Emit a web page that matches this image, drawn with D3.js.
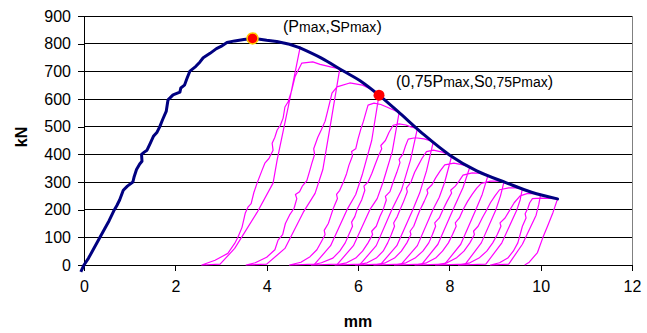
<!DOCTYPE html>
<html>
<head>
<meta charset="utf-8">
<script src="https://cdn.jsdelivr.net/npm/d3@7"></script>
<style>
  body { margin: 0; background: #fff; }
  text { font-family: Arial, "Liberation Sans", sans-serif; }
</style>
</head>
<body>
<svg id="chart" width="647" height="333"></svg>
<script>
// axis ticks
const xTicks = [0, 2, 4, 6, 8, 10, 12];
const yTicks = [0, 100, 200, 300, 400, 500, 600, 700, 800, 900];

// envelope curve [mm, kN] - rising part (measured) and fitted descending tail
const envelopeRise = [[-0.07,-25],[0,0],[0.1,25],[0.2,55],[0.35,100],[0.45,130],[0.55,160],[0.65,195],[0.72,215],[0.78,235],[0.86,270],[0.95,285],[1.07,300],[1.1,320],[1.15,345],[1.22,365],[1.27,375],[1.26,400],[1.32,408],[1.38,415],[1.45,440],[1.52,465],[1.6,480],[1.66,500],[1.72,525],[1.8,555],[1.84,597],[1.95,615],[2.1,625],[2.12,640],[2.2,650],[2.25,672],[2.32,701],[2.45,718],[2.54,734],[2.61,749],[2.76,765],[2.9,782],[3.0,790],[3.13,804],[3.3,810],[3.5,815],[3.69,819],[3.85,816],[4.0,812],[4.22,808],[4.5,798],[4.73,785]];
const envelopeTail = [[4.73,785],[5.2,748],[5.67,702],[6.1,660],[6.46,614],[6.92,548],[7.45,470],[8.01,397],[8.6,340],[9.25,297],[9.8,263],[10.37,239]];

// unloading / reloading cycles [mm, kN]
const cycle1 = [[4.73,785],[4.47,570],[4.23,380],[4.14,296],[3.79,190],[3.3,60],[2.98,3],[2.58,0],[2.87,17],[3.15,42],[3.3,78],[3.37,100],[3.46,136],[3.53,187],[3.59,209],[3.66,222],[3.72,262],[3.79,296],[3.9,343],[3.96,368],[4.05,385],[4.14,415],[4.12,440],[4.18,462],[4.23,488],[4.3,505],[4.36,531],[4.4,571],[4.47,590],[4.55,632],[4.62,680],[4.66,694],[4.77,730],[5.01,734],[5.17,725],[5.4,716],[5.6,709]];
const cycle2 = [[5.6,709],[5.42,530],[5.23,345],[5.06,259],[4.8,190],[4.4,60],[4.0,3],[3.55,0],[3.75,8],[4.0,28],[4.18,55],[4.25,90],[4.35,110],[4.41,150],[4.5,180],[4.6,205],[4.66,240],[4.63,255],[4.72,265],[4.78,285],[4.88,305],[4.95,345],[4.99,368],[5.05,400],[5.03,420],[5.12,462],[5.2,490],[5.28,520],[5.34,560],[5.4,600],[5.43,621],[5.54,644],[5.82,658],[6.1,650],[6.33,632],[6.46,614]];
const cycle3 = [[6.46,614],[6.3,450],[6.1,330],[5.95,255],[5.76,200],[5.4,70],[5.05,3],[4.5,0],[4.75,10],[4.95,30],[5.1,55],[5.2,85],[5.28,110],[5.26,125],[5.35,150],[5.4,175],[5.46,205],[5.55,240],[5.53,255],[5.6,270],[5.68,300],[5.75,330],[5.8,360],[5.88,395],[5.86,410],[5.95,420],[6.0,455],[6.06,490],[6.12,520],[6.18,555],[6.22,578],[6.35,585],[6.5,580],[6.63,571],[6.9,551]];
const cycle4 = [[6.9,551],[6.75,410],[6.55,300],[6.42,240],[6.26,200],[5.9,70],[5.55,3],[4.98,0],[5.2,8],[5.45,25],[5.6,50],[5.72,80],[5.8,110],[5.88,140],[5.86,155],[5.93,175],[5.99,205],[6.08,235],[6.15,270],[6.13,285],[6.22,300],[6.3,330],[6.38,365],[6.45,395],[6.52,420],[6.5,432],[6.6,450],[6.68,480],[6.77,505],[6.9,510],[7.05,506],[7.14,500],[7.3,493]];
const cycle5 = [[7.3,493],[7.15,380],[6.95,270],[6.74,200],[6.4,70],[6.05,3],[5.5,0],[5.75,8],[5.95,25],[6.1,50],[6.22,80],[6.32,110],[6.3,122],[6.4,140],[6.48,175],[6.55,200],[6.62,235],[6.6,248],[6.7,265],[6.77,300],[6.85,335],[6.92,370],[6.9,382],[6.98,400],[7.04,430],[7.1,455],[7.25,460],[7.45,456],[7.65,446]];
const cycle6 = [[7.65,446],[7.5,340],[7.35,260],[7.2,200],[6.85,70],[6.5,3],[5.95,0],[6.2,8],[6.4,25],[6.55,50],[6.65,80],[6.73,110],[6.8,140],[6.78,152],[6.86,175],[6.92,200],[7.0,230],[7.08,265],[7.06,278],[7.16,300],[7.24,335],[7.32,360],[7.4,385],[7.5,410],[7.65,415],[7.85,408],[8.05,393]];
const cycle7 = [[8.05,393],[7.9,300],[7.78,245],[7.64,200],[7.3,70],[6.95,3],[6.35,0],[6.6,8],[6.8,25],[6.95,50],[7.07,80],[7.16,110],[7.14,122],[7.22,140],[7.3,175],[7.36,200],[7.45,230],[7.53,260],[7.51,272],[7.62,290],[7.7,315],[7.8,340],[7.9,362],[8.1,368],[8.3,362],[8.45,354]];
const cycle8 = [[8.45,354],[8.3,280],[8.08,200],[7.75,75],[7.4,3],[6.8,0],[7.05,8],[7.25,25],[7.42,50],[7.55,80],[7.63,110],[7.7,140],[7.68,152],[7.78,170],[7.86,200],[7.95,230],[8.05,260],[8.03,270],[8.13,285],[8.22,305],[8.3,325],[8.5,333],[8.7,331],[8.85,326]];
const cycle9 = [[8.85,326],[8.72,255],[8.58,200],[8.25,75],[7.9,3],[7.25,0],[7.5,8],[7.7,25],[7.85,50],[7.98,80],[8.07,110],[8.15,140],[8.13,152],[8.22,170],[8.3,200],[8.4,230],[8.5,255],[8.6,278],[8.7,295],[8.9,303],[9.05,303],[9.2,302]];
const cycle10 = [[9.2,302],[9.12,250],[9.02,200],[8.7,80],[8.35,3],[7.7,0],[7.95,8],[8.15,25],[8.32,50],[8.45,80],[8.55,110],[8.53,122],[8.63,140],[8.72,170],[8.82,200],[8.9,225],[9.0,250],[9.1,272],[9.3,279],[9.45,279],[9.6,276]];
const cycle11 = [[9.6,276],[9.55,235],[9.48,200],[9.15,80],[8.8,3],[8.2,0],[8.45,8],[8.65,25],[8.82,50],[8.95,80],[9.05,110],[9.13,140],[9.11,152],[9.22,170],[9.33,200],[9.42,225],[9.55,250],[9.7,258],[9.85,259],[10.0,256]];
const cycle12 = [[10.0,256],[9.96,220],[9.9,180],[9.6,75],[9.3,3],[8.9,0],[9.1,8],[9.28,25],[9.4,50],[9.5,80],[9.55,110],[9.6,140],[9.68,170],[9.66,185],[9.72,205],[9.76,225],[9.82,240],[10.0,242],[10.2,241],[10.37,239]];
const cycle13 = [[10.37,239],[10.27,190],[10.15,140],[10.05,100],[9.93,45],[9.75,10],[9.65,0]];
const cycles = [cycle1, cycle2, cycle3, cycle4, cycle5, cycle6, cycle7, cycle8, cycle9, cycle10, cycle11, cycle12, cycle13];

// marked points
const peakPoint = [3.69, 819];
const point75 = [6.46, 614];

const svg = d3.select('#chart');

const x = d3.scaleLinear().domain([0, 12]).range([84, 632]);
const y = d3.scaleLinear().domain([0, 900]).range([265, 16]);

// gridlines
svg.append('g')
  .selectAll('line')
  .data(yTicks.filter(d => d > 0))
  .join('line')
  .attr('x1', x(0)).attr('x2', x(12))
  .attr('y1', d => y(d)).attr('y2', d => y(d))
  .attr('stroke', '#000')
  .attr('shape-rendering', 'crispEdges');

// right border of plot area
svg.append('line')
  .attr('x1', x(12)).attr('x2', x(12))
  .attr('y1', y(900)).attr('y2', y(0))
  .attr('stroke', '#808080')
  .attr('shape-rendering', 'crispEdges');

// axes
const xAxis = svg.append('g')
  .attr('transform', `translate(0,${y(0)})`)
  .call(d3.axisBottom(x).tickValues(xTicks).tickSize(6).tickPadding(10));
const yAxis = svg.append('g')
  .attr('transform', `translate(${x(0)},0)`)
  .call(d3.axisLeft(y).tickValues(yTicks).tickSize(6).tickPadding(7));

[xAxis, yAxis].forEach(a => {
  a.select('.domain').attr('stroke', '#000').attr('shape-rendering', 'crispEdges');
  a.selectAll('.tick line').attr('stroke', '#000').attr('shape-rendering', 'crispEdges');
  a.selectAll('text').style('font-size', '16px').attr('fill', '#000')
    .style('font-family', 'Arial, "Liberation Sans", sans-serif');
});

// axis titles
svg.append('text')
  .attr('x', x(6)).attr('y', 327)
  .attr('text-anchor', 'middle')
  .style('font-size', '16px').style('font-weight', 'bold')
  .text('mm');
svg.append('text')
  .attr('transform', `translate(27,${137}) rotate(-90)`)
  .attr('text-anchor', 'middle')
  .style('font-size', '16px').style('font-weight', 'bold')
  .text('kN');

const line = d3.line().x(d => x(d[0])).y(d => y(d[1]));

// cycles (magenta)
svg.append('g')
  .selectAll('path')
  .data(cycles)
  .join('path')
  .attr('d', line)
  .attr('fill', 'none')
  .attr('stroke', '#ff00ff')
  .attr('stroke-width', 1.2)
  .attr('stroke-linejoin', 'round');

// envelope (navy)
svg.append('path')
  .datum(envelopeRise)
  .attr('d', line)
  .attr('fill', 'none')
  .attr('stroke', '#000080')
  .attr('stroke-width', 3)
  .attr('stroke-linejoin', 'round');
svg.append('path')
  .datum(envelopeTail)
  .attr('d', line.curve(d3.curveMonotoneX))
  .attr('fill', 'none')
  .attr('stroke', '#000080')
  .attr('stroke-width', 3)
  .attr('stroke-linecap', 'round');

// markers
svg.append('circle')
  .attr('cx', x(peakPoint[0])).attr('cy', y(peakPoint[1]))
  .attr('r', 5.5)
  .attr('fill', '#ff0000')
  .attr('stroke', '#ffcc00').attr('stroke-width', 1.5);
svg.append('circle')
  .attr('cx', x(point75[0])).attr('cy', y(point75[1]))
  .attr('r', 5.5)
  .attr('fill', '#ff0000');

// annotations
function label(xPos, yPos, parts) {
  const t = svg.append('text').attr('x', xPos).attr('y', yPos).attr('fill', '#000');
  parts.forEach(p => {
    t.append('tspan').style('font-size', p[1] + 'px').text(p[0]);
  });
}
label(283, 32, [['(P', 16], ['max', 14], [',S', 16], ['Pmax', 14], [')', 16]]);
label(396, 87, [['(0,75P', 16], ['max', 14], [',S', 16], ['0,75Pmax', 14], [')', 16]]);
</script>
</body>
</html>
